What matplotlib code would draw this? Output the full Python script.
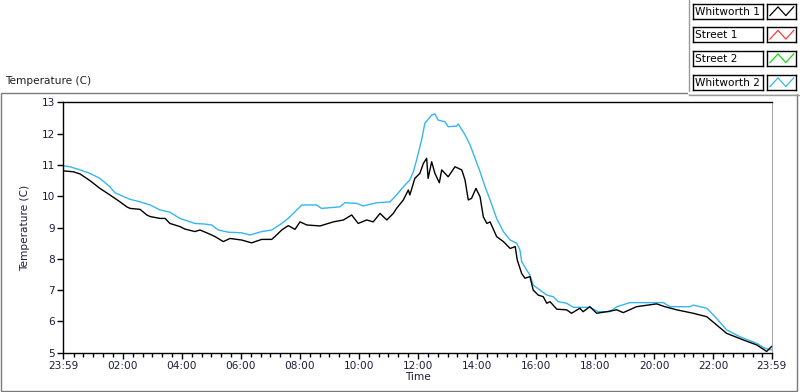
import numpy as np
import matplotlib
matplotlib.use("Agg")
import matplotlib.pyplot as plt
from matplotlib.lines import Line2D
from matplotlib.patches import Rectangle

# hours after 23:59 and temperature (C)
w1_hours = [0.00, 0.34, 0.57, 0.90, 1.24, 1.58, 1.92, 2.15, 2.26, 2.60, 2.83, 2.94,
            3.28, 3.45, 3.61, 3.95, 4.12, 4.46, 4.63, 4.91, 5.14, 5.42, 5.65, 6.04,
            6.38, 6.72, 7.06, 7.17, 7.40, 7.62, 7.85, 8.02, 8.25, 8.70, 9.15, 9.49,
            9.77, 9.99, 10.28, 10.50, 10.73, 10.96, 11.18, 11.29, 11.52, 11.69, 11.74,
            11.91, 12.08, 12.20, 12.31, 12.36, 12.48, 12.59, 12.74, 12.82, 13.04, 13.27,
            13.50, 13.61, 13.72, 13.83, 13.98, 14.12, 14.23, 14.35, 14.46, 14.68, 14.91,
            15.14, 15.31, 15.38, 15.53, 15.64, 15.81, 15.92, 16.09, 16.26, 16.38, 16.49,
            16.72, 17.05, 17.22, 17.50, 17.61, 17.84, 18.07, 18.41, 18.75, 18.97, 19.42,
            20.10, 20.38, 20.78, 21.34, 21.80, 22.13, 22.47, 23.03, 23.49, 23.83, 24.00]
w1_temp = [10.81, 10.78, 10.71, 10.50, 10.25, 10.04, 9.82, 9.66, 9.61, 9.58, 9.40, 9.35,
           9.29, 9.29, 9.13, 9.03, 8.95, 8.87, 8.92, 8.81, 8.71, 8.55, 8.65, 8.60,
           8.51, 8.62, 8.62, 8.71, 8.92, 9.06, 8.94, 9.18, 9.08, 9.05, 9.18, 9.24,
           9.40, 9.13, 9.24, 9.18, 9.45, 9.24, 9.45, 9.61, 9.88, 10.20, 10.04,
           10.57, 10.73, 11.05, 11.21, 10.57, 11.10, 10.73, 10.43, 10.84, 10.62, 10.94,
           10.84, 10.52, 9.88, 9.93, 10.25, 9.98, 9.34, 9.13, 9.18, 8.71, 8.55,
           8.33, 8.39, 7.96, 7.53, 7.38, 7.43, 7.00, 6.84, 6.79, 6.58, 6.63,
           6.39, 6.37, 6.26, 6.42, 6.31, 6.47, 6.26, 6.31, 6.37, 6.28, 6.47,
           6.56, 6.47, 6.37, 6.26, 6.15, 5.89, 5.62, 5.41, 5.25, 5.04, 5.20]

w2_hours = [0.00, 0.23, 0.57, 0.90, 1.24, 1.58, 1.75, 1.92, 2.26, 2.60, 2.94, 3.28,
            3.61, 3.95, 4.46, 4.80, 5.03, 5.25, 5.59, 6.04, 6.33, 6.50, 6.72, 7.06,
            7.40, 7.62, 7.91, 8.08, 8.58, 8.75, 9.37, 9.54, 9.94, 10.16, 10.62, 11.07,
            11.29, 11.52, 11.74, 11.86, 11.97, 12.14, 12.25, 12.48, 12.59, 12.70, 12.93,
            13.04, 13.33, 13.38, 13.61, 13.78, 13.95, 14.12, 14.29, 14.46, 14.68, 14.91,
            15.14, 15.36, 15.47, 15.53, 15.70, 15.81, 15.92, 16.15, 16.38, 16.60, 16.77,
            17.05, 17.28, 17.84, 18.12, 18.52, 18.75, 19.20, 20.33, 20.55, 21.23, 21.34,
            21.80, 22.13, 22.47, 22.92, 23.49, 23.77, 24.00]
w2_temp = [10.97, 10.94, 10.84, 10.73, 10.57, 10.30, 10.11, 10.04, 9.90, 9.82, 9.72, 9.56,
           9.49, 9.29, 9.13, 9.11, 9.08, 8.92, 8.85, 8.83, 8.76, 8.81, 8.87, 8.92,
           9.13, 9.29, 9.56, 9.72, 9.72, 9.61, 9.66, 9.79, 9.77, 9.69, 9.79, 9.82,
           10.04, 10.30, 10.52, 10.78, 11.16, 11.80, 12.33, 12.59, 12.63, 12.43, 12.38,
           12.22, 12.24, 12.31, 11.96, 11.64, 11.21, 10.78, 10.30, 9.88, 9.29, 8.87,
           8.60, 8.50, 8.28, 7.91, 7.64, 7.48, 7.16, 7.00, 6.84, 6.79, 6.63,
           6.58, 6.45, 6.45, 6.31, 6.31, 6.47, 6.60, 6.60, 6.47, 6.47, 6.52,
           6.42, 6.10, 5.73, 5.51, 5.30, 5.14, 5.09]

series_names = ["Whitworth 1", "Street 1", "Street 2", "Whitworth 2"]
series_colors = ["black", "#ff3b3b", "#19d919", "#35b6f2"]

x_labels = ["23:59"] + ["%02d:00" % h for h in range(2, 24, 2)] + ["23:59"]
y_ticks = [5, 6, 7, 8, 9, 10, 11, 12, 13]

W, H = 800, 392
txt_col = "#1c1c3c"
fs = 7.6

fig = plt.figure(figsize=(W / 100, H / 100), dpi=100)
fig.patch.set_facecolor("white")


def fx(px):
    return px / W


def fy(py):
    return 1 - py / H


# outer frame
fig.add_artist(Rectangle((fx(1), fy(390.5)), fx(796), 298 / H, transform=fig.transFigure,
                         fill=False, edgecolor="#7a7a7a", lw=1))
fig.text(fx(5), fy(81), "Temperature (C)", fontsize=fs, color="#202020", va="center", ha="left")

ax = fig.add_axes([fx(63.3), fy(352.7), fx(771.7 - 63.3), (352.7 - 102.3) / H])
ax.plot(w2_hours, w2_temp, color=series_colors[3], lw=1.0)
ax.plot(w1_hours, w1_temp, color=series_colors[0], lw=1.0)

ax.set_xlim(0, 24)
ax.set_ylim(5, 13)
ax.set_yticks(y_ticks)
ax.set_yticklabels([str(v) for v in y_ticks], fontsize=fs, color=txt_col)
off = 1 / 60  # 23:59 -> 00:00
ax.set_xticks([0] + [off + h for h in range(2, 24, 2)] + [24])
ax.set_xticklabels(x_labels, fontsize=fs, color=txt_col)
ax.set_xticks([off + k / 3 for k in range(1, 72) if k % 6 != 0], minor=True)
ax.tick_params(axis="both", which="major", length=4, width=1, color="black", pad=2)
ax.tick_params(axis="x", which="minor", length=3, width=1, color="black")
ax.set_xlabel("Time", fontsize=fs, color=txt_col, labelpad=1)
ax.set_ylabel("Temperature (C)", fontsize=fs, color=txt_col, labelpad=8)
for s in ["left", "bottom", "top"]:
    ax.spines[s].set_color("black")
    ax.spines[s].set_linewidth(1)
ax.spines["right"].set_color("#a8a8a8")

# legend panel
fig.add_artist(Line2D([fx(689), fx(689)], [fy(0), fy(93)], transform=fig.transFigure,
                      color="#9a9a9a", lw=1))
fig.add_artist(Line2D([fx(689), fx(800)], [fy(93), fy(93)], transform=fig.transFigure,
                      color="white", lw=1.5))
fig.add_artist(Line2D([fx(689), fx(800)], [fy(95), fy(95)], transform=fig.transFigure,
                      color="#9a9a9a", lw=1))
row_tops = [4, 27.5, 51, 75]
for name, col, top in zip(series_names, series_colors, row_tops):
    tb = fig.add_axes([fx(693), fy(top + 14.5), fx(70), 14.5 / H])
    tb.set_xticks([])
    tb.set_yticks([])
    tb.text(0.03, 0.45, name, fontsize=fs, color="black", va="center", ha="left",
            transform=tb.transAxes)
    sw = fig.add_axes([fx(767), fy(top + 14.5), fx(29), 14.5 / H])
    sw.set_xticks([])
    sw.set_yticks([])
    sw.set_xlim(0, 1)
    sw.set_ylim(0, 1)
    sw.plot([0.1, 0.38, 0.65, 0.92], [0.2, 0.8, 0.2, 0.8], color=col, lw=0.9)
    for a in (tb, sw):
        for s in a.spines.values():
            s.set_color("black")
            s.set_linewidth(1)

fig.savefig("out.png", dpi=100)
